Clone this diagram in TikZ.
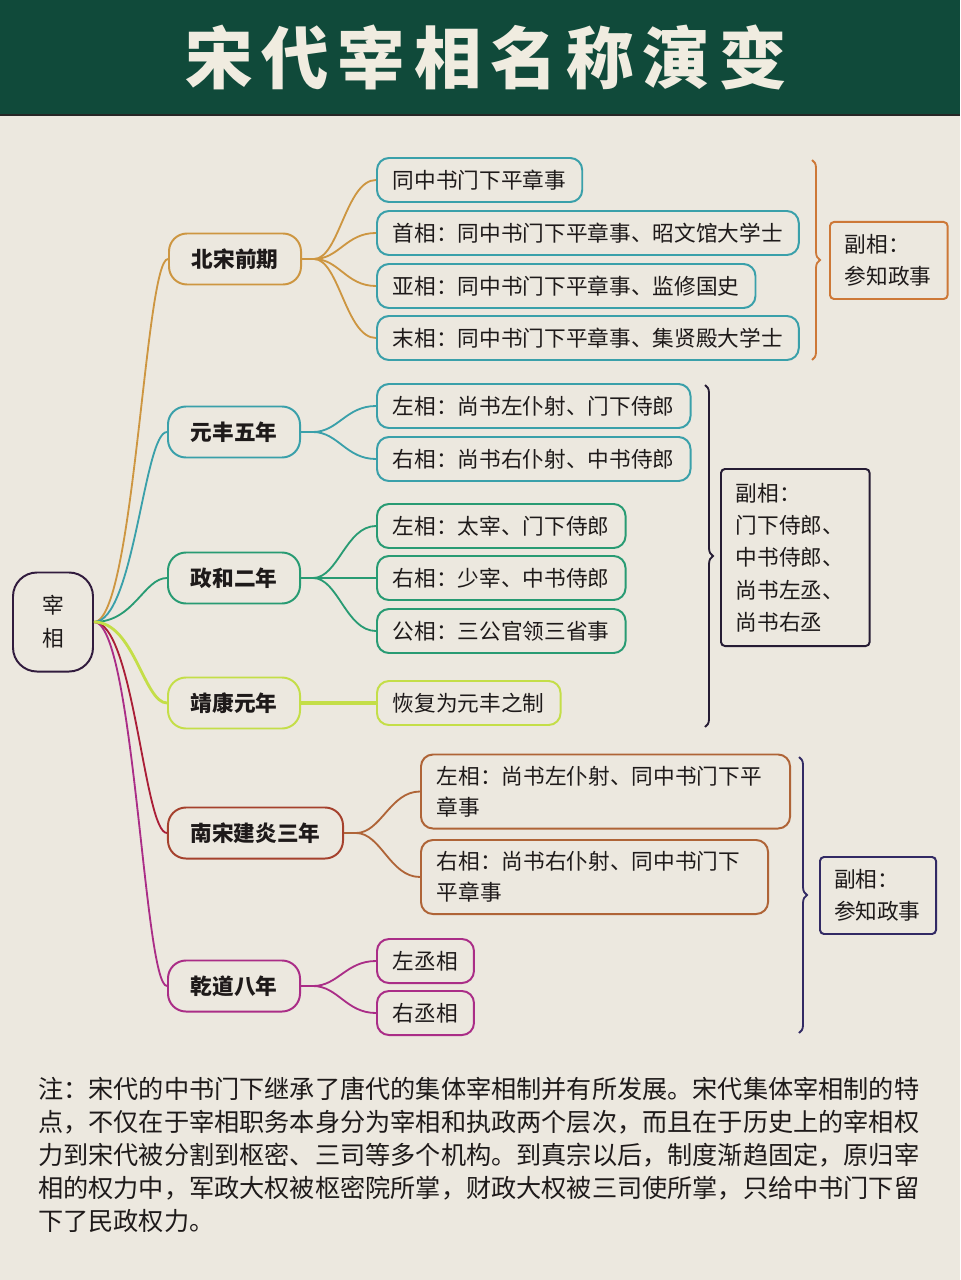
\documentclass[tikz,border=0pt]{standalone}
\usepackage{fontspec}
\setmainfont{Noto Sans CJK SC}
\usetikzlibrary{positioning}
\usetikzlibrary{decorations.pathreplacing}

\definecolor{hdr}{RGB}{16,74,58}
\definecolor{paper}{RGB}{236,232,223}
\definecolor{ink}{RGB}{30,26,26}
\definecolor{titlec}{RGB}{240,236,224}
\definecolor{rootc}{RGB}{50,28,62}
\definecolor{goldc}{RGB}{205,150,65}
\definecolor{tealc}{RGB}{58,160,170}
\definecolor{greenc}{RGB}{40,155,115}
\definecolor{limec}{RGB}{196,222,72}
\definecolor{rustc}{RGB}{165,65,45}
\definecolor{redc}{RGB}{170,30,55}
\definecolor{brownc}{RGB}{175,100,55}
\definecolor{magc}{RGB}{170,45,135}
\definecolor{orangec}{RGB}{205,120,55}
\definecolor{darkc}{RGB}{38,28,52}
\definecolor{navyc}{RGB}{50,42,100}

\begin{document}
\begin{tikzpicture}
  [
    x=0.025cm, y=-0.025cm,
    every node/.style = {text=ink, font=\fontsize{15.4pt}{22pt}\selectfont},
    era/.style = {draw=#1, line width=1.4pt, rounded corners=0.45cm,
                  minimum width=3.3cm, minimum height=1.275cm,
                  font=\fontsize{15.4pt}{22pt}\selectfont\bfseries},
    leaf/.style = {draw=#1, line width=1.4pt, rounded corners=0.3cm,
                   minimum height=1.1cm, inner xsep=0.4cm, anchor=west, align=left},
    side/.style = {draw=#1, line width=1.4pt, rounded corners=0.1cm, anchor=north west,
                   align=left, inner xsep=0.37cm, font=\fontsize{15.4pt}{23pt}\selectfont},
    link/.style = {draw=#1, line width=1.3pt},
    brc/.style = {draw=#1, line width=1.3pt, decorate, decoration={brace, amplitude=0.2cm}}
  ]

  \useasboundingbox (0,0) rectangle (960,1280);
  \fill[paper] (0,0) rectangle (960,1280);
  \fill[hdr] (0,0) rectangle (960,114);
  \draw[black!85, line width=2pt] (0,115) -- (960,115);

  \node[text=titlec, font=\fontsize{48pt}{50pt}\selectfont\bfseries\addfontfeature{LetterSpace=13}] (title) at (486,57) {宋代宰相名称演变};

  \node[draw=rootc, line width=1.4pt, rounded corners=0.6cm, minimum width=2cm,
        minimum height=2.475cm, align=center, font=\fontsize{15.4pt}{23.4pt}\selectfont] (zx) at (53,622) {宰\\相};

  \node[era=goldc] (bq) at (235,259) {北宋前期};
  \node[era=tealc] (yf) at (234,432) {元丰五年};
  \node[era=greenc] (zh) at (234,578) {政和二年};
  \node[era=limec] (jk) at (234,703) {靖康元年};
  \node[era=rustc, minimum width=4.375cm] (nj) at (255.5,833) {南宋建炎三年};
  \node[era=magc] (qd) at (234,986) {乾道八年};

  \node[leaf=tealc] (bq1) at (376,180) {同中书门下平章事};
  \node[leaf=tealc] (bq2) at (376,233) {首相：同中书门下平章事、昭文馆大学士};
  \node[leaf=tealc] (bq3) at (376,286) {亚相：同中书门下平章事、监修国史};
  \node[leaf=tealc] (bq4) at (376,338) {末相：同中书门下平章事、集贤殿大学士};
  \node[leaf=tealc] (yf1) at (376,406) {左相：尚书左仆射、门下侍郎};
  \node[leaf=tealc] (yf2) at (376,459) {右相：尚书右仆射、中书侍郎};
  \node[leaf=greenc] (zh1) at (376,526) {左相：太宰、门下侍郎};
  \node[leaf=greenc] (zh2) at (376,578) {右相：少宰、中书侍郎};
  \node[leaf=greenc] (zh3) at (376,631) {公相：三公官领三省事};
  \node[leaf=limec] (jk1) at (376,703) {恢复为元丰之制};
  \node[leaf=brownc, text width=8.425cm, minimum height=1.85cm] (nj1) at (420,791.5) {左相：尚书左仆射、同中书门下平\\章事};
  \node[leaf=brownc, text width=7.875cm, minimum height=1.85cm] (nj2) at (420,877) {右相：尚书右仆射、同中书门下\\平章事};
  \node[leaf=magc] (qd1) at (376,961) {左丞相};
  \node[leaf=magc] (qd2) at (376,1013) {右丞相};

  \node[side=orangec, text width=2.2cm, minimum height=1.925cm] (fxA) at (829,221) {副相：\\参知政事};
  \node[side=darkc, text width=2.975cm, minimum height=4.425cm] (fxB) at (720,468) {副相：\\门下侍郎、\\中书侍郎、\\尚书左丞、\\尚书右丞};
  \node[side=navyc, text width=2.2cm, inner xsep=0.35cm, minimum height=1.925cm] (fxC) at (819,856) {副相：\\参知政事};

  \draw[brc=orangec] (812,160) -- (812,360);
  \draw[brc=darkc] (705,385) -- (705,727);
  \draw[brc=navyc] (799,757) -- (799,1033);

  \foreach \e/\c in {bq/goldc, yf/tealc, zh/greenc, nj/redc, qd/magc}
    \draw[link=\c] (zx.east) .. controls +(40,0) and +(-23,0) .. (\e.west);
  \draw[link=limec, line width=2pt] (zx.east) .. controls +(40,0) and +(-23,0) .. (jk.west);

  \foreach \l in {bq1,bq2,bq3,bq4}
    \draw[link=goldc] (bq.east) -- ++(12,0) .. controls +(25,0) and +(-30,0) .. (\l.west);
  \foreach \l in {yf1,yf2}
    \draw[link=tealc] (yf.east) -- ++(12,0) .. controls +(25,0) and +(-30,0) .. (\l.west);
  \foreach \l in {zh1,zh2,zh3}
    \draw[link=greenc] (zh.east) -- ++(12,0) .. controls +(25,0) and +(-30,0) .. (\l.west);
  \draw[link=limec, line width=2.6pt] (jk.east) -- (jk1.west);
  \foreach \l in {nj1,nj2}
    \draw[link=brownc] (nj.east) -- ++(12,0) .. controls +(25,0) and +(-30,0) .. (\l.west);
  \foreach \l in {qd1,qd2}
    \draw[link=magc] (qd.east) -- ++(12,0) .. controls +(25,0) and +(-30,0) .. (\l.west);

  \node[anchor=north west, inner sep=0, align=left, font=\fontsize{17.9pt}{23.4pt}\selectfont] (note) at (38,1077)
    {注：宋代的中书门下继承了唐代的集体宰相制并有所发展。宋代集体宰相制的特\\
     点，不仅在于宰相职务本身分为宰相和执政两个层次，而且在于历史上的宰相权\\
     力到宋代被分割到枢密、三司等多个机构。到真宗以后，制度渐趋固定，原归宰\\
     相的权力中，军政大权被枢密院所掌，财政大权被三司使所掌，只给中书门下留\\
     下了民政权力。};
\end{tikzpicture}
\end{document}
